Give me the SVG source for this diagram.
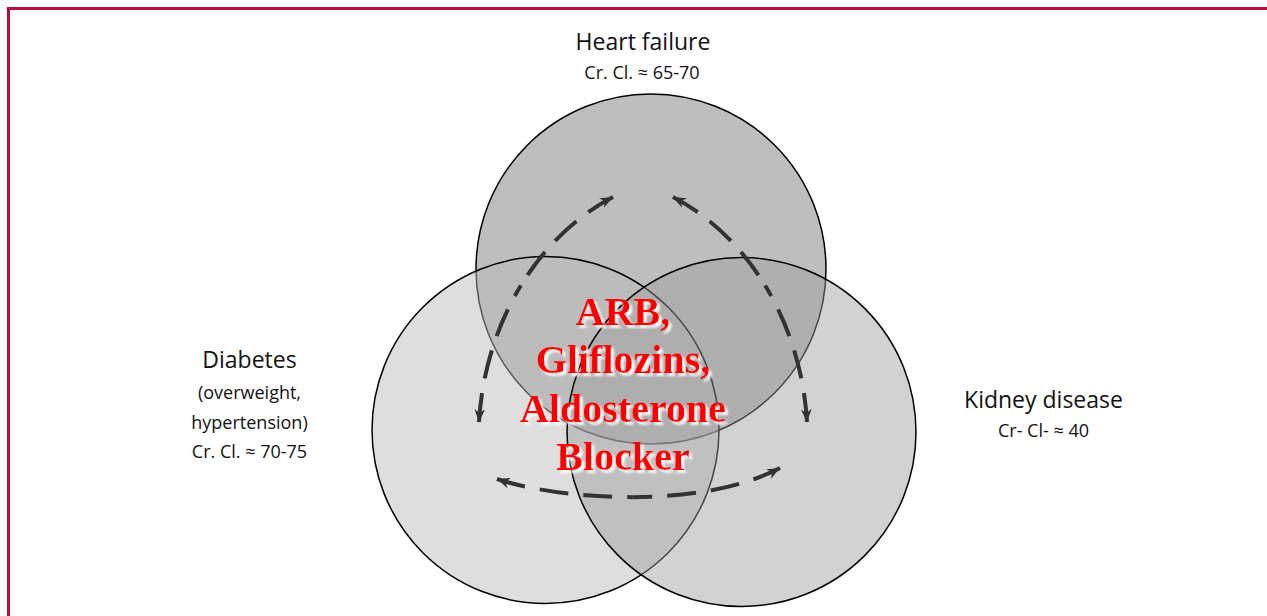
<svg xmlns="http://www.w3.org/2000/svg" width="1267" height="616" viewBox="0 0 1267 616">
<style>
.lbl{font-family:"Open Sans","Noto Sans","Liberation Sans",sans-serif;fill:#111;text-anchor:middle}
.big{font-size:23px}
.sm{font-size:18px}
.ctr{font-family:"Liberation Serif","Times New Roman",serif;font-weight:bold;font-size:40px;fill:#ff0000;text-anchor:middle}
.circ{stroke:#000;stroke-width:1.5}
.arc{fill:none;stroke:#333;stroke-width:4;stroke-dasharray:29 15;marker-start:url(#ah)}
</style>
<defs>
<marker id="ah" markerUnits="userSpaceOnUse" markerWidth="15" markerHeight="13" refX="12" refY="5" orient="auto-start-reverse" viewBox="0 0 14 10">
<path d="M0,0 L12,5 L0,10 L3.5,5 z" fill="#333"/>
</marker>
<filter id="sh" x="-10%" y="-10%" width="130%" height="140%">
<feGaussianBlur in="SourceAlpha" stdDeviation="1.2" result="b"/>
<feOffset in="b" dx="3" dy="3" result="o"/>
<feFlood flood-color="#ffffff" flood-opacity="0.95"/>
<feComposite in2="o" operator="in" result="s"/>
<feMerge><feMergeNode in="s"/><feMergeNode in="SourceGraphic"/></feMerge>
</filter>
</defs>
<rect x="8.5" y="8.5" width="1275" height="630" fill="none" stroke="#b5103c" stroke-width="3"/>
<g id="heart-failure">
<circle class="circ" cx="651" cy="269" r="175" fill="#bebebe"/>
<text class="lbl big" x="643" y="50">Heart failure</text>
<text class="lbl sm" x="642" y="79">Cr. Cl. ≈ 65-70</text>
</g>
<g id="diabetes">
<circle class="circ" cx="545.5" cy="430" r="173.5" fill="#bababa" fill-opacity="0.48"/>
<text class="lbl big" x="249.5" y="368">Diabetes</text>
<text class="lbl sm" x="249.5" y="399">(overweight,</text>
<text class="lbl sm" x="249.5" y="429">hypertension)</text>
<text class="lbl sm" x="249.5" y="458">Cr. Cl. ≈ 70-75</text>
</g>
<g id="kidney-disease">
<circle class="circ" cx="741.5" cy="432" r="174.5" fill="#9d9d9d" fill-opacity="0.46"/>
<text class="lbl big" x="1043.5" y="408">Kidney disease</text>
<text class="lbl sm" x="1043.5" y="437">Cr- Cl- ≈ 40</text>
</g>
<g id="connectors">
<path class="arc" d="M479,422 C482,371 497.25,324.25 520.875,285.5"/>
<path class="arc" d="M613,197 C576.5,216 544.5,246.75 520.875,285.5"/>
<path class="arc" d="M807,422 C804,371 788.75,324.25 765.125,285.5"/>
<path class="arc" d="M673,197 C709.5,216 741.5,246.75 765.125,285.5"/>
<path class="arc" d="M497,479 C528.5,489.5 579.25,497.25 632.125,497.125"/>
<path class="arc" d="M780,468 C740,489 685,497 632.125,497.125"/>
</g>
<g id="treatment" filter="url(#sh)">
<text class="ctr" x="623" y="325">ARB,</text>
<text class="ctr" x="623" y="373">Gliflozins,</text>
<text class="ctr" x="623" y="422">Aldosterone</text>
<text class="ctr" x="623" y="470">Blocker</text>
</g>
</svg>
